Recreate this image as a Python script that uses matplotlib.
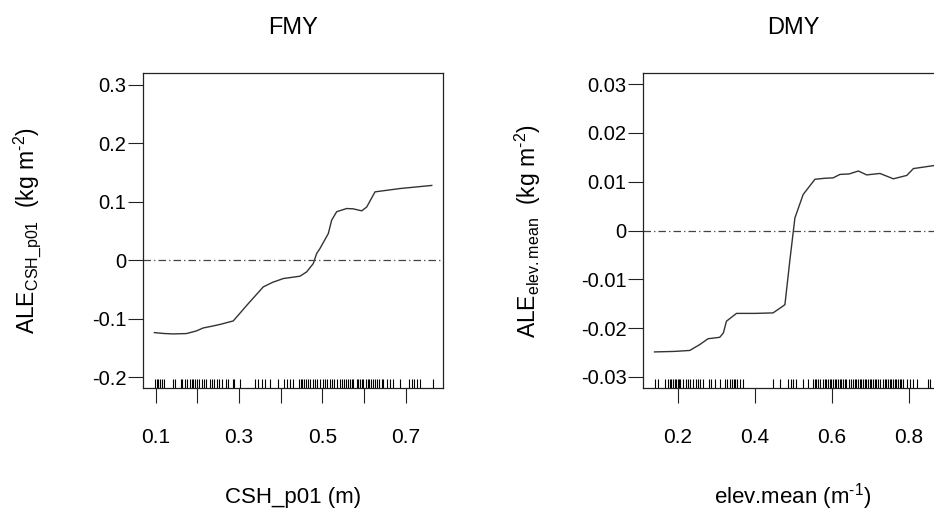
import numpy as np
import matplotlib
matplotlib.use("Agg")
import matplotlib.pyplot as plt
import matplotlib.transforms as mtransforms

plt.rcParams['font.family'] = ['Liberation Sans', 'DejaVu Sans']
plt.rcParams['mathtext.fontset'] = 'custom'
plt.rcParams['mathtext.rm'] = 'Liberation Sans'
plt.rcParams['mathtext.it'] = 'Liberation Sans:italic'
plt.rcParams['axes.unicode_minus'] = False

# ALE curve for FMY vs CSH_p01
fmy_x = [0.097, 0.12, 0.142, 0.174, 0.198, 0.214, 0.235, 0.254, 0.27, 0.286, 0.32,
         0.358, 0.38, 0.406, 0.446, 0.462, 0.478, 0.486, 0.494, 0.514, 0.522, 0.534,
         0.558, 0.574, 0.594, 0.606, 0.626, 0.686, 0.762]
fmy_y = [-0.124, -0.1255, -0.1262, -0.1256, -0.121, -0.116, -0.113, -0.110, -0.107,
         -0.104, -0.076, -0.0457, -0.038, -0.0314, -0.0274, -0.020, -0.0057, 0.0114,
         0.020, 0.0457, 0.0685, 0.083, 0.0885, 0.0879, 0.0845, 0.091, 0.117, 0.1227, 0.128]

# ALE curve for DMY vs elev.mean
dmy_x = [0.139, 0.19, 0.2305, 0.2565, 0.278, 0.3086, 0.318, 0.326, 0.352, 0.40, 0.447,
         0.473, 0.478, 0.491, 0.504, 0.5255, 0.556, 0.58, 0.6036, 0.621, 0.645, 0.669,
         0.6906, 0.725, 0.76, 0.795, 0.812, 0.864, 0.885]
dmy_y = [-0.0249, -0.0248, -0.0246, -0.0234, -0.0222, -0.0219, -0.0210, -0.0186,
         -0.0170, -0.0170, -0.0169, -0.0155, -0.0152, -0.006, 0.0026, 0.0074, 0.0105,
         0.0107, 0.0108, 0.0115, 0.0116, 0.0122, 0.0114, 0.0117, 0.0106, 0.0113,
         0.0127, 0.0133, 0.0136]

# observed predictor values (rug)
fmy_rug = [0.098, 0.102, 0.106, 0.110, 0.116, 0.120, 0.142, 0.147, 0.160, 0.164, 0.170,
           0.174, 0.182, 0.186, 0.190, 0.194, 0.198, 0.205, 0.210, 0.216, 0.221, 0.230,
           0.234, 0.240, 0.246, 0.252, 0.258, 0.269, 0.274, 0.285, 0.289, 0.302, 0.338,
           0.346, 0.354, 0.362, 0.374, 0.394, 0.408, 0.414, 0.422, 0.430, 0.444, 0.448,
           0.452, 0.456, 0.460, 0.466, 0.470, 0.478, 0.482, 0.486, 0.494, 0.502, 0.506,
           0.510, 0.518, 0.522, 0.528, 0.534, 0.542, 0.548, 0.552, 0.556, 0.560, 0.566,
           0.570, 0.574, 0.582, 0.586, 0.590, 0.594, 0.598, 0.604, 0.608, 0.612, 0.616,
           0.622, 0.626, 0.630, 0.636, 0.642, 0.646, 0.654, 0.662, 0.670, 0.686, 0.708,
           0.714, 0.719, 0.726, 0.734, 0.764]
dmy_rug = [0.139, 0.148, 0.165, 0.174, 0.178, 0.183, 0.187, 0.191, 0.196, 0.200, 0.203,
           0.206, 0.213, 0.220, 0.226, 0.232, 0.239, 0.246, 0.252, 0.258, 0.265, 0.281,
           0.287, 0.296, 0.309, 0.322, 0.328, 0.336, 0.341, 0.345, 0.348, 0.354, 0.361,
           0.369, 0.448, 0.465, 0.487, 0.493, 0.500, 0.508, 0.526, 0.539, 0.552, 0.556,
           0.560, 0.565, 0.569, 0.576, 0.582, 0.586, 0.591, 0.595, 0.599, 0.604, 0.608,
           0.612, 0.617, 0.621, 0.625, 0.630, 0.634, 0.638, 0.645, 0.649, 0.656, 0.660,
           0.664, 0.669, 0.673, 0.677, 0.682, 0.686, 0.690, 0.695, 0.699, 0.703, 0.708,
           0.712, 0.716, 0.721, 0.725, 0.732, 0.738, 0.742, 0.747, 0.751, 0.755, 0.760,
           0.764, 0.768, 0.773, 0.777, 0.781, 0.786, 0.795, 0.803, 0.812, 0.821, 0.849,
           0.855]

fmy_xticks = [0.1, 0.2, 0.3, 0.4, 0.5, 0.6, 0.7]
fmy_xlabels = ['0.1', '', '0.3', '', '0.5', '', '0.7']
fmy_yticks = [0.3, 0.2, 0.1, 0, -0.1, -0.2]
fmy_ylabels = ['0.3', '0.2', '0.1', '0', '-0.1', '-0.2']
dmy_xticks = [0.2, 0.4, 0.6, 0.8]
dmy_xlabels = ['0.2', '0.4', '0.6', '0.8']
dmy_yticks = [0.03, 0.02, 0.01, 0, -0.01, -0.02, -0.03]
dmy_ylabels = ['0.03', '0.02', '0.01', '0', '-0.01', '-0.02', '-0.03']

W, H = 934, 511
fig = plt.figure(figsize=(W / 100, H / 100), dpi=100)


def px_box(left, top, width, height):
    return [left / W, 1 - (top + height) / H, width / W, height / H]


def ale_panel(ax, x, y, rug, xlim, ylim, xticks, xlabels, yticks, ylabels):
    ax.plot(x, y, color='#333333', lw=1.0)
    ax.axhline(0, color='#444444', lw=0.9, linestyle=(0, (6, 2.5, 1, 2.5)))
    trans = mtransforms.blended_transform_factory(ax.transData, ax.transAxes)
    ax.vlines(rug, 0, 0.03, transform=trans, color='black', lw=0.8)
    ax.set_xlim(*xlim)
    ax.set_ylim(*ylim)
    ax.set_xticks(xticks)
    ax.set_xticklabels(xlabels)
    ax.set_yticks(yticks)
    ax.set_yticklabels(ylabels)
    ax.tick_params(axis='both', direction='out', length=10.8, width=0.8, color='#222222')
    ax.tick_params(axis='x', labelsize=15, pad=18)
    ax.tick_params(axis='y', labelsize=14.5, pad=1)
    for sp in ax.spines.values():
        sp.set_linewidth(0.9)
        sp.set_color('#222222')


ax1 = fig.add_axes(px_box(143, 73, 300, 315))
ale_panel(ax1, fmy_x, fmy_y, fmy_rug, (0.0696, 0.789), (-0.2188, 0.3205),
          fmy_xticks, fmy_xlabels, fmy_yticks, fmy_ylabels)

ax2 = fig.add_axes(px_box(643, 73, 300, 315))
ale_panel(ax2, dmy_x, dmy_y, dmy_rug, (0.109, 0.889), (-0.0323, 0.0323),
          dmy_xticks, dmy_xlabels, dmy_yticks, dmy_ylabels)

# titles and axis labels
fig.text(293 / W, 1 - 28 / H, 'FMY', ha='center', va='center', fontsize=17)
fig.text(793 / W, 1 - 28 / H, 'DMY', ha='center', va='center', fontsize=17)
fig.text(293 / W, 1 - 497 / H, 'CSH_p01 (m)', ha='center', va='center', fontsize=16)
fig.text(793 / W, 1 - 497 / H, r'elev.mean (m$^{\text{-1}}$)', ha='center', va='center',
         fontsize=16)
fig.text(27 / W, 1 - 231 / H, r'ALE$_{\mathrm{CSH\_p01}}$  (kg m$^{\text{-2}}$)', rotation=90,
         ha='center', va='center', fontsize=16.5)
fig.text(528 / W, 1 - 231 / H, r'ALE$_{\mathrm{elev.mean}}$  (kg m$^{\text{-2}}$)', rotation=90,
         ha='center', va='center', fontsize=16.5)

fig.savefig('out.png', dpi=100)
